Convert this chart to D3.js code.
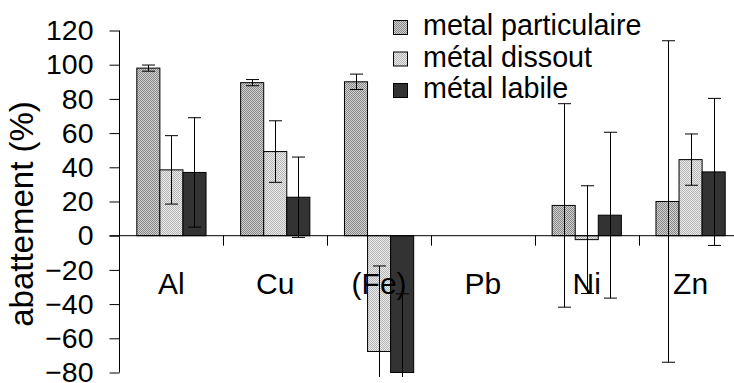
<!DOCTYPE html>
<html>
<head>
<meta charset="utf-8">
<script src="https://cdn.jsdelivr.net/npm/d3@7"></script>
<style>
  html, body { margin: 0; padding: 0; background: #fff; }
  svg { display: block; }
  text { font-family: "Liberation Sans", Arial, sans-serif; fill: #000; }
</style>
</head>
<body>
<svg id="chart" width="734" height="383"></svg>
<script>
// ---- data ----
const categories = ["Al", "Cu", "(Fe)", "Pb", "Ni", "Zn"];
const seriesNames = ["metal particulaire", "métal dissout", "métal labile"];
const particulaire = [98, 89.5, 90, null, 17.7, 20];
const particulaireErr = [1.8, 1.8, 4.5, null, 59.5, 94];
const dissout = [38.5, 49.2, -67.7, null, -2.3, 44.5];
const dissoutErr = [20, 18, 50, null, 31.5, 15];
const labile = [37, 22.5, -80, null, 12, 37.3];
const labileErr = [32, 23.5, 46, null, 48.5, 43];
const yTicks = [120, 100, 80, 60, 40, 20, 0, -20, -40, -60, -80];

const seriesValues = [particulaire, dissout, labile];
const seriesErrors = [particulaireErr, dissoutErr, labileErr];

const svg = d3.select("#chart");
const W = 734, H = 383;

// patterns
const defs = svg.append("defs");
function makePattern(id, bg, dot) {
  const p = defs.append("pattern").attr("id", id)
    .attr("patternUnits", "userSpaceOnUse").attr("width", 2).attr("height", 2);
  p.append("rect").attr("width", 2).attr("height", 2).attr("fill", bg);
  p.append("rect").attr("width", 1).attr("height", 1).attr("fill", dot);
  p.append("rect").attr("x", 1).attr("y", 1).attr("width", 1).attr("height", 1).attr("fill", dot);
}
makePattern("patPart", "#d0d0d0", "#888888");
makePattern("patDiss", "#ececec", "#b4b4b4");
const fills = ["url(#patPart)", "url(#patDiss)", "#333333"];

defs.append("clipPath").attr("id", "plotClip")
  .append("rect").attr("x", 0).attr("y", 0).attr("width", W).attr("height", 377);

// scales
const y = d3.scaleLinear().domain([-80, 120]).range([372.5, 30.5]);
const x0 = d3.scaleBand().domain(categories).range([119.5, 742.5]).paddingInner(0).paddingOuter(0);
const x1 = d3.scaleBand().domain(seriesNames).range([0, x0.bandwidth()]).paddingInner(0).paddingOuter(0.75);

// bars
const plot = svg.append("g").attr("clip-path", "url(#plotClip)");
seriesNames.forEach((s, si) => {
  const data = categories.map((c, i) => ({ c, v: seriesValues[si][i], e: seriesErrors[si][i] }))
    .filter(d => d.v !== null);
  plot.append("g").selectAll("rect").data(data).join("rect")
    .attr("x", d => x0(d.c) + x1(s))
    .attr("width", x1.bandwidth())
    .attr("y", d => y(Math.max(0, d.v)))
    .attr("height", d => Math.abs(y(d.v) - y(0)))
    .attr("fill", fills[si])
    .attr("stroke", "#000").attr("stroke-width", 1);
});

// x axis line (zero)
svg.append("line").attr("x1", 109.5).attr("x2", W).attr("y1", y(0)).attr("y2", y(0))
  .attr("stroke", "#000").attr("stroke-width", 1);
// category boundary ticks
const bounds = categories.slice(1).map(c => x0(c));
svg.append("g").selectAll("line").data(bounds).join("line")
  .attr("x1", d => Math.round(d) + 0.5).attr("x2", d => Math.round(d) + 0.5)
  .attr("y1", y(0)).attr("y2", y(0) + 10)
  .attr("stroke", "#000").attr("stroke-width", 1);

// error bars
const errG = svg.append("g").attr("clip-path", "url(#plotClip)");
seriesNames.forEach((s, si) => {
  const data = categories.map((c, i) => ({ c, v: seriesValues[si][i], e: seriesErrors[si][i] }))
    .filter(d => d.v !== null);
  const g = errG.append("g");
  const cx = d => Math.round(x0(d.c) + x1(s) + x1.bandwidth() / 2) + 0.5;
  g.selectAll("line.v").data(data).join("line").attr("class", "v")
    .attr("x1", cx).attr("x2", cx)
    .attr("y1", d => y(d.v + d.e)).attr("y2", d => y(d.v - d.e))
    .attr("stroke", "#000").attr("stroke-width", 1);
  g.selectAll("line.t").data(data).join("line").attr("class", "t")
    .attr("x1", d => cx(d) - 6.5).attr("x2", d => cx(d) + 6.5)
    .attr("y1", d => y(d.v + d.e)).attr("y2", d => y(d.v + d.e))
    .attr("stroke", "#000").attr("stroke-width", 1);
  g.selectAll("line.b").data(data).join("line").attr("class", "b")
    .attr("x1", d => cx(d) - 6.5).attr("x2", d => cx(d) + 6.5)
    .attr("y1", d => y(d.v - d.e)).attr("y2", d => y(d.v - d.e))
    .attr("stroke", "#000").attr("stroke-width", 1);
});

// y axis
const yAxis = d3.axisLeft(y).tickValues(yTicks).tickSize(10).tickPadding(16).tickFormat(d3.format("d"));
const yg = svg.append("g").attr("transform", "translate(119.5,0)").call(yAxis);
yg.select(".domain").attr("stroke", "#000").attr("d", `M0,${y(120)}V${y(-80)}`);
yg.selectAll(".tick line").attr("stroke", "#000");
yg.selectAll(".tick text").style("font-size", "28.5px").style("font-family", '"Liberation Sans", Arial, sans-serif').attr("fill", "#000");

// category labels
svg.append("g").selectAll("text").data(categories).join("text")
  .attr("x", d => x0(d) + x0.bandwidth() / 2)
  .attr("y", 294)
  .attr("text-anchor", "middle")
  .style("font-size", "30px")
  .text(d => d);

// y title
svg.append("text")
  .attr("transform", "translate(33,214) rotate(-90)")
  .attr("text-anchor", "middle")
  .style("font-size", "33px")
  .text("abattement (%)");

// legend
const leg = svg.append("g");
seriesNames.forEach((s, i) => {
  const by = 35 + i * 31.5;
  leg.append("rect").attr("x", 393.5).attr("y", by - 14.5).attr("width", 14).attr("height", 14)
    .attr("fill", fills[i]).attr("stroke", "#000").attr("stroke-width", 1);
  leg.append("text").attr("x", 423).attr("y", by).style("font-size", "28.7px").text(s);
});
</script>
</body>
</html>
